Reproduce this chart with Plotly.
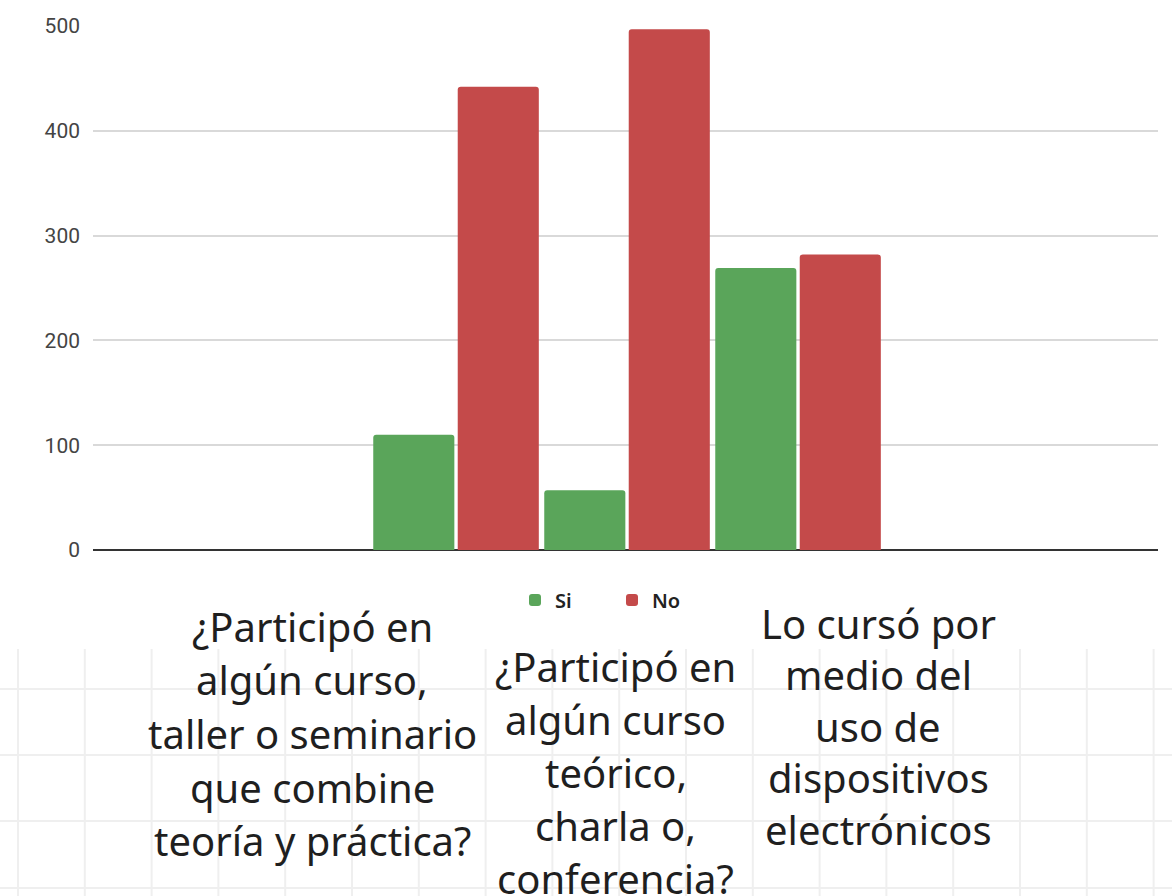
import plotly.graph_objects as go

# ---- data ----
categories = [
    "¿Participó en algún curso, taller o seminario que combine teoría y práctica?",
    "¿Participó en algún curso teórico, charla o, conferencia?",
    "Lo cursó por medio del uso de dispositivos electrónicos",
]
category_lines = [
    ["¿Participó en", "algún curso,", "taller o seminario", "que combine", "teoría y práctica?"],
    ["¿Participó en", "algún curso", "teórico,", "charla o,", "conferencia?"],
    ["Lo cursó por", "medio del", "uso de", "dispositivos", "electrónicos"],
]
series_names = ["Si", "No"]
si_values = [110, 57, 269]
no_values = [442, 497, 282]
y_ticks = [0, 100, 200, 300, 400, 500]

# ---- layout geometry (pixels) ----
W, H = 1172, 896
PL, PR, PT, PB = 93, 1158, 26, 550


def px_x(px):
    return (px - PL) / (PR - PL)


def px_y(py):
    return (PB - py) / (PB - PT)


fig = go.Figure()
fig.add_trace(go.Bar(name=series_names[0], x=categories, y=si_values,
                     marker=dict(color="#5aa55a", line=dict(width=0))))
fig.add_trace(go.Bar(name=series_names[1], x=categories, y=no_values,
                     marker=dict(color="#c44a4a", line=dict(width=0))))

# category labels (overlaid text blocks)
label_centers = [(312, 640, 53.7), (615.5, 680, 53.0), (878, 637, 51.5)]
annotations = []
for lines, (cx, base0, step) in zip(category_lines, label_centers):
    for i, line in enumerate(lines):
        annotations.append(dict(
            text=line, xref="paper", yref="paper",
            x=px_x(cx), y=px_y(base0 + i * step - 14),
            xanchor="center", yanchor="middle", showarrow=False,
            font=dict(family="Noto Sans", size=40, color="#1f1f1f"),
        ))

# faint background grid paper at the bottom
shapes = []
gx = 18.0
while gx < W:
    shapes.append(dict(type="line", xref="paper", yref="paper", layer="below",
                       x0=px_x(gx), x1=px_x(gx), y0=px_y(649), y1=px_y(H),
                       line=dict(color="#efefef", width=2)))
    gx += 66.8
for gy in [689, 755, 821, 888]:
    shapes.append(dict(type="line", xref="paper", yref="paper", layer="below",
                       x0=px_x(0), x1=px_x(W), y0=px_y(gy), y1=px_y(gy),
                       line=dict(color="#efefef", width=2)))

fig.update_layout(
    width=W, height=H,
    margin=dict(l=PL, r=W - PR, t=PT, b=H - PB, pad=0),
    paper_bgcolor="white", plot_bgcolor="white",
    barmode="group", bargap=0.012, bargroupgap=0.04, barcornerradius=3,
    showlegend=True,
    legend=dict(orientation="h", x=px_x(612), xanchor="center",
                y=px_y(600), yanchor="middle",
                font=dict(family="Noto Sans", size=20, color="#222222", weight=600),
                bgcolor="rgba(0,0,0,0)", itemwidth=30,
                entrywidth=52, entrywidthmode="pixels"),
    xaxis=dict(type="category", range=[-2.123, 4.105], showticklabels=False,
               showgrid=False, zeroline=False, showline=False, fixedrange=True),
    yaxis=dict(range=[0, 500], tickvals=y_ticks, showgrid=True,
               gridcolor="#d9d9d9", gridwidth=2,
               zeroline=True, zerolinecolor="#333333", zerolinewidth=2,
               showline=False, ticks="", ticklabelstandoff=12,
               tickfont=dict(family="Roboto", size=21, color="#444444")),
    annotations=annotations,
    shapes=shapes,
)

fig.write_html("out.html", config={"displayModeBar": False},
               post_script="document.body.style.margin='0';document.body.style.padding='0';")
